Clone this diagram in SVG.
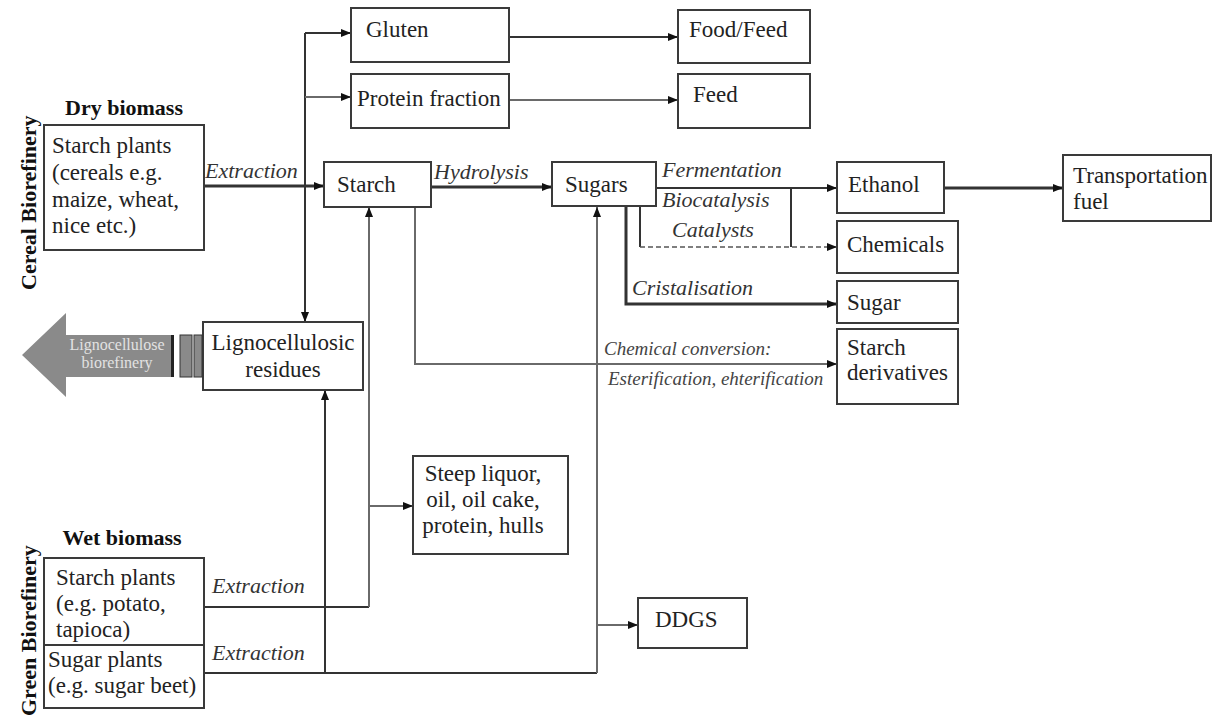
<svg xmlns="http://www.w3.org/2000/svg" width="1213" height="718" viewBox="0 0 1213 718">
<defs>
<style>
.box{fill:#fff;stroke:#3a3a3a;stroke-width:2}
.t{font-family:"Liberation Serif","Times New Roman",serif;font-size:23px;fill:#222}
.b{font-family:"Liberation Serif","Times New Roman",serif;font-size:22px;font-weight:bold;fill:#111}
.i{font-family:"Liberation Serif","Times New Roman",serif;font-size:22px;font-style:italic;fill:#333}
.s{font-family:"Liberation Serif","Times New Roman",serif;font-size:19px;font-style:italic;fill:#444}
.ln{fill:none;stroke:#333;stroke-width:2}
.lg{fill:none;stroke:#6a6a6a;stroke-width:2}
.th{fill:none;stroke:#333;stroke-width:3}
.dash{fill:none;stroke:#555;stroke-width:1.6;stroke-dasharray:5,3}
</style>
<marker id="ah" markerUnits="userSpaceOnUse" markerWidth="10" markerHeight="8" refX="10" refY="4" orient="auto">
<path d="M0,0 L10,4 L0,8 z" fill="#111"/>
</marker>
</defs>
<rect width="1213" height="718" fill="#fff"/>

<g id="labels">
<text class="b" transform="translate(36,290) rotate(-90)">Cereal Biorefinery</text>
<text class="b" transform="translate(36,716) rotate(-90)">Green Biorefinery</text>
</g>

<g id="connectors">
<path class="th" d="M204,186 H324" marker-end="url(#ah)"/>
<path class="ln" d="M305,33 V322" marker-end="url(#ah)"/>
<path class="ln" d="M305,33 H351" marker-end="url(#ah)"/>
<path class="lg" d="M305,97 H351" marker-end="url(#ah)"/>
<path class="ln" d="M509,37 H678" marker-end="url(#ah)"/>
<path class="lg" d="M509,100 H678" marker-end="url(#ah)"/>
<path class="th" d="M431,187 H552" marker-end="url(#ah)"/>
<path class="ln" d="M656,188 H837" marker-end="url(#ah)"/>
<path class="ln" d="M640,206 V247"/>
<path class="ln" d="M791,188 V247"/>
<path class="dash" d="M640,247 H837" marker-end="url(#ah)"/>
<path class="th" d="M626,206 V304 H837" marker-end="url(#ah)"/>
<path class="lg" d="M415,207 V364 H837" marker-end="url(#ah)"/>
<path class="ln" d="M204,673 H597"/>
<path class="lg" d="M597,673 V207" marker-end="url(#ah)"/>
<path class="lg" d="M597,625 H638" marker-end="url(#ah)"/>
<path class="ln" d="M204,607 H369"/>
<path class="lg" d="M369,607 V207" marker-end="url(#ah)"/>
<path class="lg" d="M369,506 H413" marker-end="url(#ah)"/>
<path class="ln" d="M325,673 V390" marker-end="url(#ah)"/>
<path class="th" d="M944,188 H1063" marker-end="url(#ah)"/>
<text class="i" x="205" y="178">Extraction</text>
<text class="i" x="434" y="179">Hydrolysis</text>
<text class="i" x="662" y="177">Fermentation</text>
<text class="i" x="662" y="207">Biocatalysis</text>
<text class="i" x="672" y="237">Catalysts</text>
<text class="i" x="632" y="295">Cristalisation</text>
<text class="s" x="604" y="355">Chemical conversion:</text>
<text class="s" x="608" y="385">Esterification, ehterification</text>
<text class="i" x="212" y="593">Extraction</text>
<text class="i" x="212" y="660">Extraction</text>
</g>

<g id="dry-biomass">
<text class="b" x="124" y="115" text-anchor="middle">Dry biomass</text>
<rect class="box" x="44" y="125" width="160" height="125"/>
<text class="t" x="52" y="153">Starch plants</text>
<text class="t" x="52" y="180">(cereals e.g.</text>
<text class="t" x="52" y="207">maize, wheat,</text>
<text class="t" x="52" y="233">nice etc.)</text>
</g>

<g id="gluten">
<rect class="box" x="351" y="8" width="158" height="54"/>
<text class="t" x="366" y="37">Gluten</text>
</g>
<g id="protein-fraction">
<rect class="box" x="351" y="74" width="158" height="54"/>
<text class="t" x="357" y="106">Protein fraction</text>
</g>
<g id="food-feed">
<rect class="box" x="678" y="10" width="132" height="53"/>
<text class="t" x="689" y="37">Food/Feed</text>
</g>
<g id="feed">
<rect class="box" x="678" y="74" width="132" height="54"/>
<text class="t" x="693" y="102">Feed</text>
</g>
<g id="starch">
<rect class="box" x="324" y="162" width="107" height="45"/>
<text class="t" x="337" y="192">Starch</text>
</g>
<g id="sugars">
<rect class="box" x="552" y="162" width="104" height="44"/>
<text class="t" x="565" y="192">Sugars</text>
</g>
<g id="ethanol">
<rect class="box" x="837" y="162" width="107" height="51"/>
<text class="t" x="848" y="192">Ethanol</text>
</g>
<g id="transportation-fuel">
<rect class="box" x="1063" y="155" width="148" height="66"/>
<text class="t" x="1073" y="183">Transportation</text>
<text class="t" x="1073" y="209">fuel</text>
</g>
<g id="chemicals">
<rect class="box" x="837" y="221" width="121" height="52"/>
<text class="t" x="847" y="252">Chemicals</text>
</g>
<g id="sugar">
<rect class="box" x="837" y="281" width="121" height="42"/>
<text class="t" x="847" y="310">Sugar</text>
</g>
<g id="starch-derivatives">
<rect class="box" x="837" y="329" width="121" height="75"/>
<text class="t" x="847" y="355">Starch</text>
<text class="t" x="847" y="380">derivatives</text>
</g>
<g id="lignocellulosic-residues">
<rect class="box" x="203" y="322" width="160" height="68"/>
<text class="t" x="283" y="350" text-anchor="middle">Lignocellulosic</text>
<text class="t" x="283" y="377" text-anchor="middle">residues</text>
</g>
<g id="lignocellulose-biorefinery">
<polygon points="22,355 66,313 66,335 173,335 173,377 66,377 66,397" fill="#8a8a8a"/>
<rect x="171" y="335" width="3" height="42" fill="#222"/>
<rect x="180" y="335" width="12" height="42" fill="#8a8a8a" stroke="#333" stroke-width="1"/>
<rect x="194" y="335" width="8" height="42" fill="#8a8a8a" stroke="#333" stroke-width="1"/>
<text x="117" y="350" text-anchor="middle" font-family="Liberation Serif, serif" font-size="16" fill="#e2e2e2">Lignocellulose</text>
<text x="117" y="368" text-anchor="middle" font-family="Liberation Serif, serif" font-size="16" fill="#e2e2e2">biorefinery</text>
</g>
<g id="steep-liquor">
<rect class="box" x="413" y="456" width="155" height="98"/>
<text class="t" x="483" y="481" text-anchor="middle">Steep liquor,</text>
<text class="t" x="483" y="507" text-anchor="middle">oil, oil cake,</text>
<text class="t" x="483" y="533" text-anchor="middle">protein, hulls</text>
</g>
<g id="ddgs">
<rect class="box" x="638" y="598" width="109" height="50"/>
<text class="t" x="655" y="627">DDGS</text>
</g>
<g id="wet-biomass">
<text class="b" x="122" y="545" text-anchor="middle">Wet biomass</text>
<rect class="box" x="44" y="558" width="160" height="150"/>
<line x1="44" y1="645" x2="204" y2="645" stroke="#3a3a3a" stroke-width="2"/>
<text class="t" x="56" y="585">Starch plants</text>
<text class="t" x="56" y="611">(e.g. potato,</text>
<text class="t" x="56" y="637">tapioca)</text>
<text class="t" x="48" y="667">Sugar plants</text>
<text class="t" x="48" y="693">(e.g. sugar beet)</text>
</g>
</svg>
